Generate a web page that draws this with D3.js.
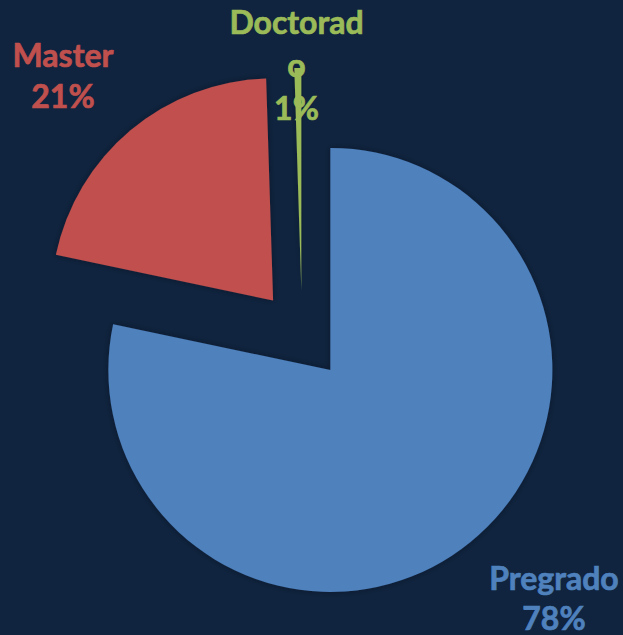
<!DOCTYPE html>
<html>
<head>
<meta charset="utf-8">
<script src="https://cdn.jsdelivr.net/npm/d3@7"></script>
<style>
  html, body { margin: 0; padding: 0; background: #10243f; }
  svg { display: block; }
</style>
</head>
<body>
<svg id="chart" width="623" height="635"></svg>
<script>
const categories = ["Pregrado", "Master", "Doctorado"];
const values = [78.3, 21.2, 0.5];
const percentLabels = ["78%", "21%", "1%"];
const colors = ["#4f81bd", "#c0504d", "#9bbb59"];

const W = 623, H = 635;
const cx = 302, cy = 335, radius = 222, explode = 45;

const svg = d3.select("#chart");
svg.append("rect").attr("width", W).attr("height", H).attr("fill", "#10243f");

const defs = svg.append("defs");
const f = defs.append("filter").attr("id", "sh").attr("x", "-20%").attr("y", "-20%").attr("width", "140%").attr("height", "140%");
f.append("feDropShadow").attr("dx", 0).attr("dy", 0).attr("stdDeviation", 3)
  .attr("flood-color", "#000").attr("flood-opacity", 0.35);

const data = categories.map((c, i) => ({ cat: c, value: values[i], pct: percentLabels[i], color: colors[i] }));
const pie = d3.pie().value(d => d.value).sort(null).startAngle(0).endAngle(2 * Math.PI);
const arc = d3.arc().innerRadius(0).outerRadius(radius);
const arcs = pie(data);

const g = svg.append("g").attr("transform", `translate(${cx},${cy})`);
g.selectAll("path").data(arcs).join("path")
  .attr("d", arc)
  .attr("fill", d => d.data.color)
  .attr("filter", "url(#sh)")
  .attr("transform", d => {
    const a = (d.startAngle + d.endAngle) / 2;
    return `translate(${explode * Math.sin(a)},${-explode * Math.cos(a)})`;
  });

// Labels (positions of data label boxes)
const labelLines = [
  { lines: ["Pregrado", percentLabels[0]], x: 554, y: 590, color: colors[0] },
  { lines: ["Master", percentLabels[1]], x: 63, y: 67, color: colors[1] },
  { lines: ["Doctorad", "o", percentLabels[2]], x: 296.5, y: 34, color: colors[2] }
];
const lineH = [40, 41, 43];
labelLines.forEach((L, i) => {
  const t = svg.append("text")
    .attr("text-anchor", "middle")
    .attr("fill", L.color)
    .attr("stroke", L.color)
    .attr("stroke-width", 0.7)
    .attr("font-family", "Lato, 'Open Sans', sans-serif")
    .attr("font-weight", "bold")
    .attr("font-size", 32);
  L.lines.forEach((s, j) => {
    t.append("tspan").attr("x", L.x).attr("y", L.y + j * lineH[i]).text(s);
  });
});
</script>
</body>
</html>
